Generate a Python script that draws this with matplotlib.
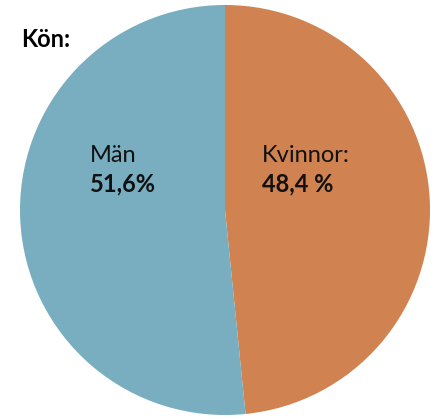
import matplotlib
matplotlib.use("Agg")
import matplotlib.pyplot as plt

categories = ["Kvinnor", "Män"]
values = [48.4, 51.6]
labels_name = ["Kvinnor:", "Män"]
labels_pct = ["48,4 %", "51,6%"]
colors = ["#D08250", "#78AEC0"]

fig = plt.figure(figsize=(4.39, 4.17), dpi=100)
ax = fig.add_axes([20/439, 2/417, 410/439, 410/417])
ax.pie(values, colors=colors, startangle=90, counterclock=False,
       wedgeprops=dict(linewidth=0))
ax.set_aspect("equal")
ax.set_xlim(-1, 1)
ax.set_ylim(-1, 1)

def px2d(px, py):
    return (px - 225) / 205, (210 - py) / 205

fam = ["Lato", "DejaVu Sans"]
pos_name = [(262, 162), (90, 162)]
pos_pct = [(262, 191), (90, 191)]
for name, pct, pn, pp in zip(labels_name, labels_pct, pos_name, pos_pct):
    x, y = px2d(*pn)
    ax.text(x, y, name, fontsize=17, family=fam, va="baseline", ha="left", color="#111111")
    x, y = px2d(*pp)
    ax.text(x, y, pct, fontsize=17, family=fam, fontweight="bold", va="baseline", ha="left", color="#111111")

fig.text(21/439, 1 - 47/417, "Kön:", fontsize=17, family=fam, fontweight="bold",
         va="baseline", ha="left", color="#000000")

fig.savefig("out.png", dpi=100)
